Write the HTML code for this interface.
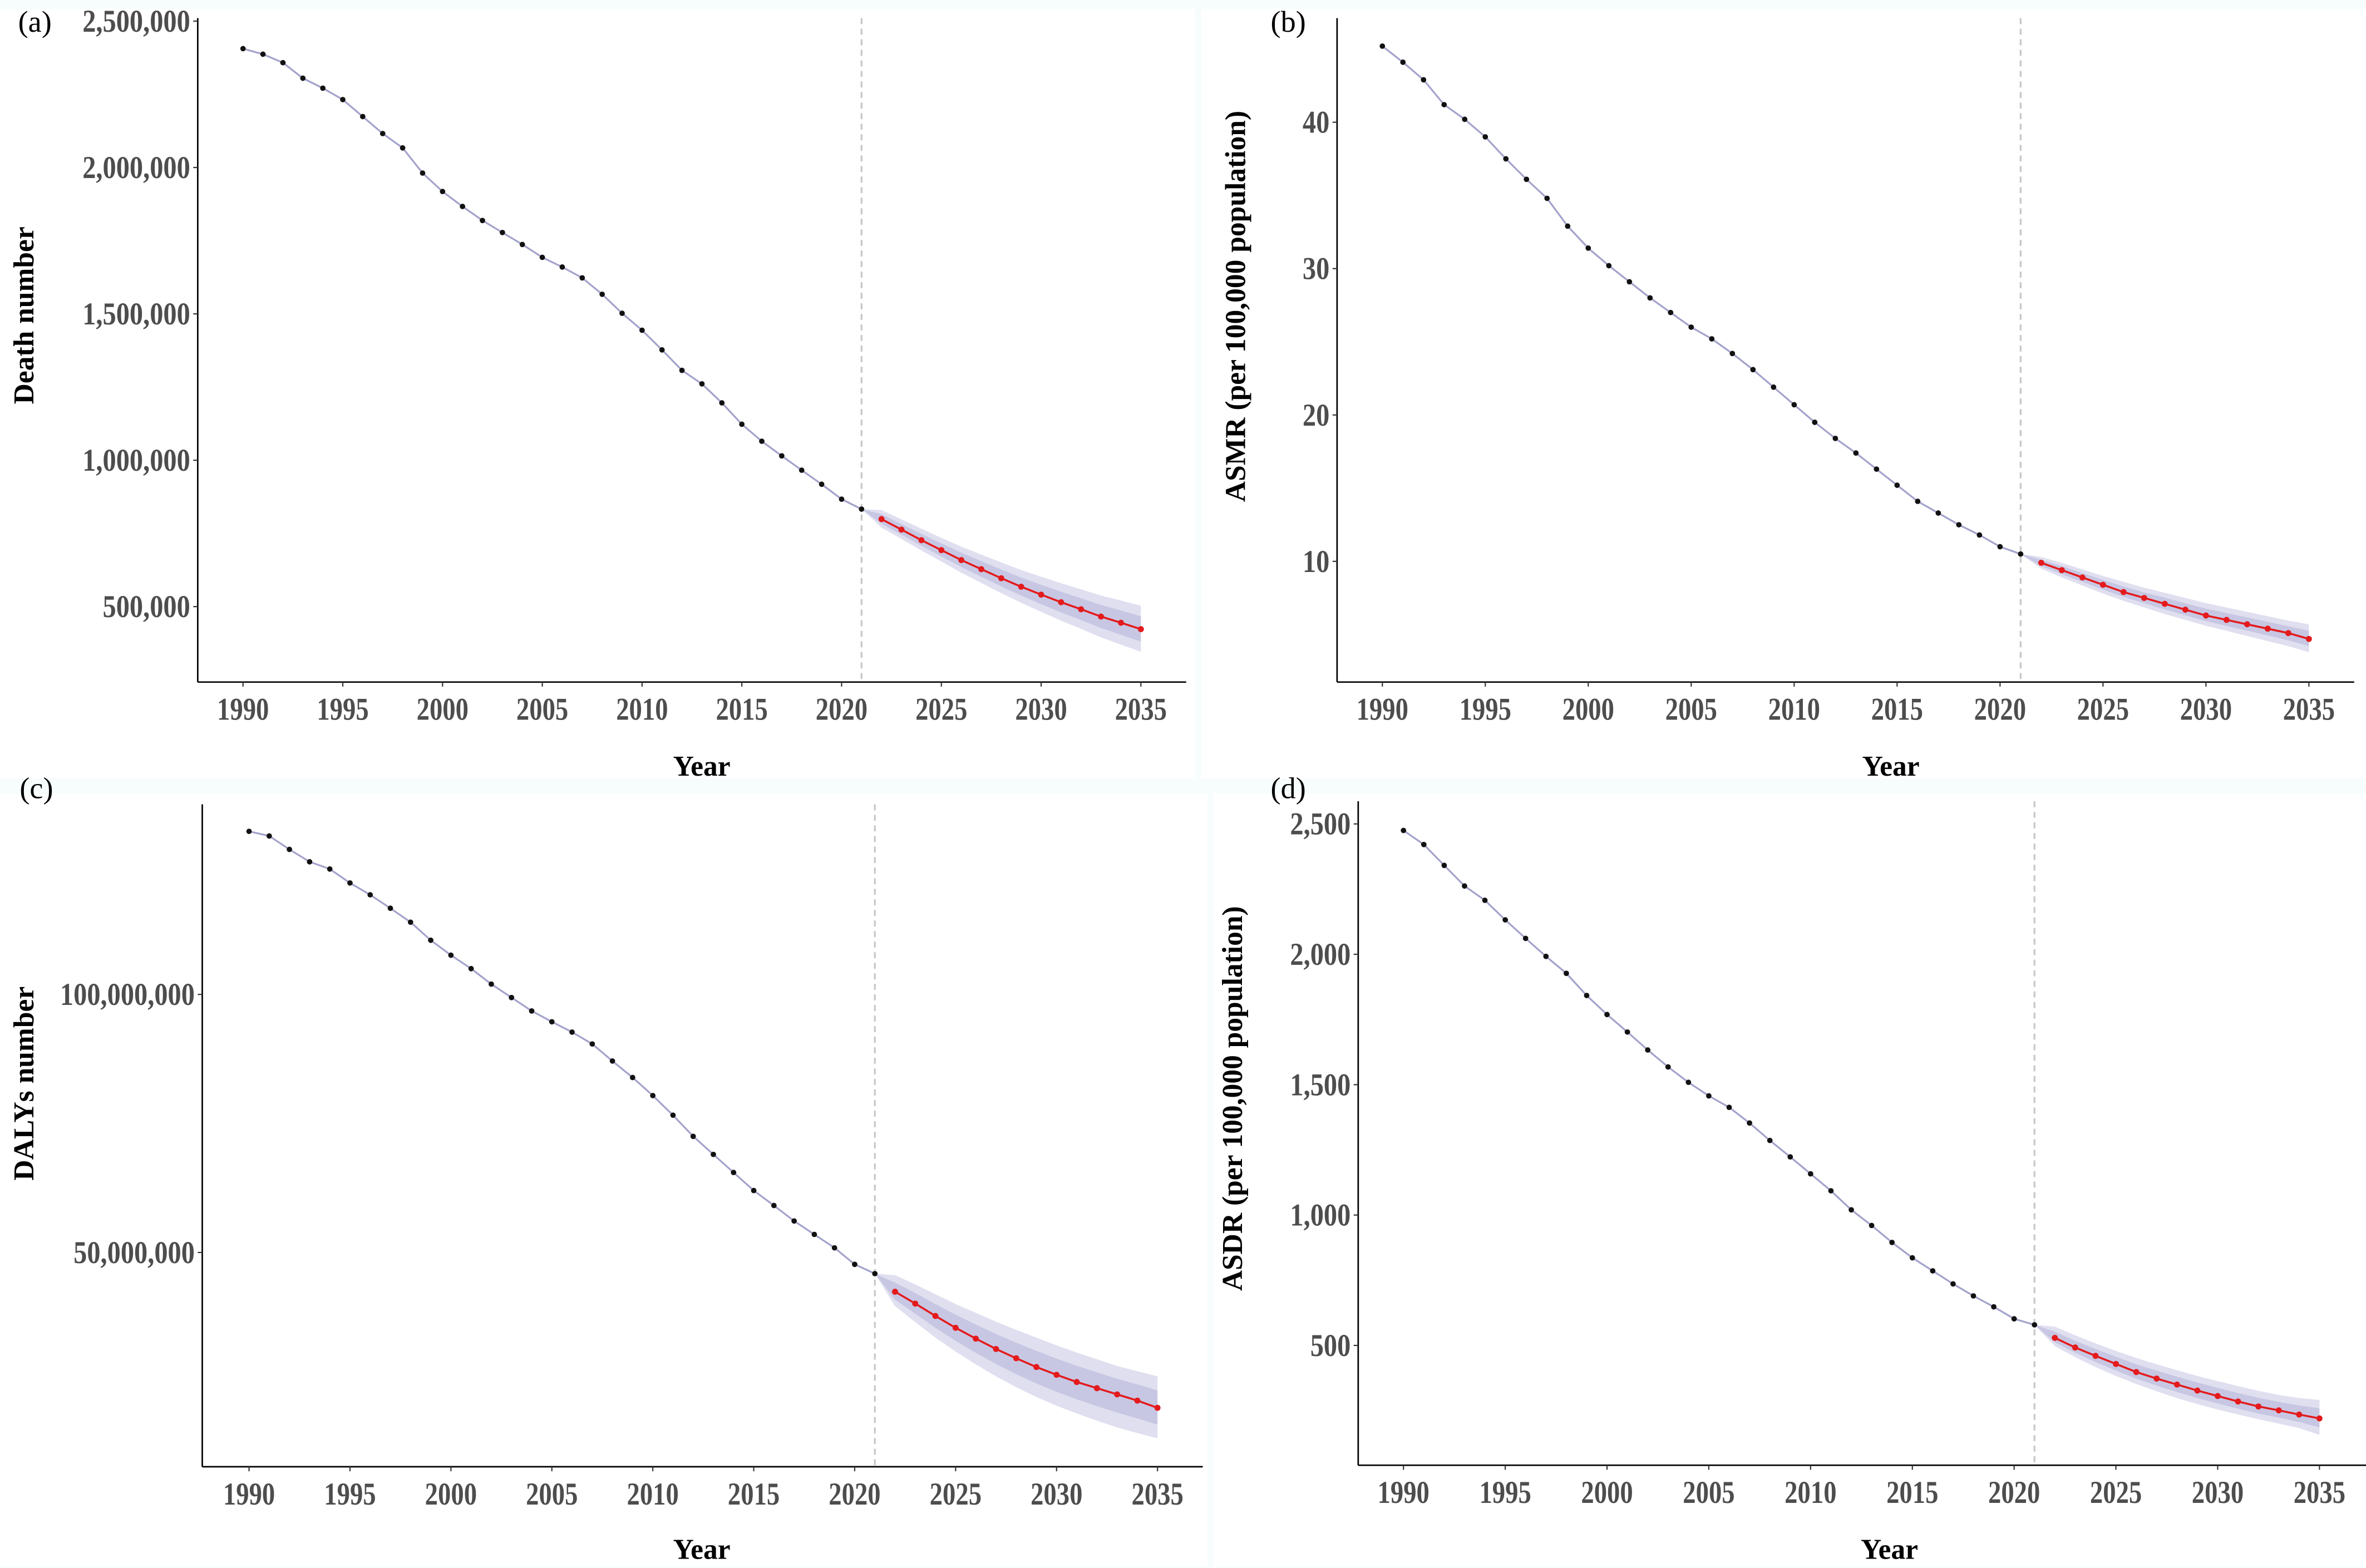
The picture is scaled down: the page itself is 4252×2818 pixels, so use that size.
<!DOCTYPE html>
<html><head><meta charset="utf-8">
<style>
html,body{margin:0;padding:0;background:#f7fdfd;}
svg{display:block;}
.tick{font-family:"Liberation Serif",serif;font-weight:bold;fill:#4d4d4d;font-size:21px;}
.title{font-family:"Liberation Serif",serif;font-weight:bold;fill:#000;font-size:19px;}
.tag{font-family:"Liberation Serif",serif;fill:#000;font-size:20px;}
</style></head>
<body>
<svg id="fig" width="4252" height="2818" viewBox="0 0 1567.8 1039.1" xmlns="http://www.w3.org/2000/svg">
<rect x="0" y="0" width="1567.8" height="1039.1" fill="#f7fdfd"/>
</svg>
<script>
const years = [];
for (let y = 1990; y <= 2021; y++) years.push(y);
const fyears = [];
for (let y = 2022; y <= 2035; y++) fyears.push(y);
const bandYears = [2021].concat(fyears);
const xTicks = [1990,1995,2000,2005,2010,2015,2020,2025,2030,2035];

// (a) Death number
const deathObs = [2406000,2387000,2358000,2305000,2271000,2232000,2174000,2116000,2067000,1981000,1918000,1867000,1819000,1778000,1737000,1693000,1660000,1623000,1567000,1502000,1444000,1377000,1307000,1261000,1196000,1123000,1065000,1015000,966000,918000,867000,833000];
const deathFc = [799000,763000,727000,693000,659000,628000,597000,568000,541000,515000,491000,466000,445000,423000];
const deathUpOuter = [833000,830000,798000,766000,735000,705000,678000,651000,625000,602000,580000,559000,538000,521000,503000];
const deathLoOuter = [833000,770000,731000,692000,654000,616000,581000,546000,513000,482000,452000,424000,395000,370000,346000];
const deathTicks = [500000,1000000,1500000,2000000,2500000];

// (b) ASMR
const asmrObs = [45.2,44.1,42.9,41.2,40.2,39.0,37.5,36.1,34.8,32.9,31.4,30.2,29.1,28.0,27.0,26.0,25.2,24.2,23.1,21.9,20.7,19.5,18.4,17.4,16.3,15.2,14.1,13.3,12.5,11.8,11.0,10.5];
const asmrFc = [9.9,9.4,8.9,8.4,7.9,7.5,7.1,6.7,6.3,6.0,5.7,5.4,5.1,4.7];
const asmrUpOuter = [10.5,10.3,9.9,9.45,9.0,8.6,8.2,7.85,7.5,7.15,6.85,6.55,6.25,5.95,5.7];
const asmrLoOuter = [10.5,9.5,8.9,8.35,7.8,7.3,6.85,6.4,6.0,5.6,5.25,4.9,4.55,4.2,3.8];
const asmrTicks = [10,20,30,40];

// (c) DALYs number
const dalyObs = [131.6,130.7,128.1,125.7,124.3,121.6,119.3,116.7,114.0,110.5,107.6,105.0,102.0,99.4,96.8,94.7,92.7,90.4,87.1,83.9,80.4,76.6,72.5,69.0,65.5,62.0,59.1,56.1,53.5,50.9,47.7,45.9].map(v=>v*1e6);
const dalyFc = [42.4,40.1,37.7,35.4,33.3,31.3,29.5,27.8,26.3,24.9,23.7,22.5,21.3,19.9].map(v=>v*1e6);
const dalyUpOuter = [45.9,45.6,43.8,41.9,40.0,38.3,36.6,35.0,33.5,32.0,30.6,29.3,28.0,27.0,26.0].map(v=>v*1e6);
const dalyLoOuter = [45.9,39.6,36.5,33.5,30.8,28.3,26.0,23.9,22.0,20.3,18.8,17.4,16.1,15.0,14.0].map(v=>v*1e6);
const dalyTicks = [50000000,100000000];

// (d) ASDR
const asdrObs = [2475,2421,2341,2262,2207,2132,2061,1992,1927,1842,1769,1702,1633,1568,1509,1457,1413,1353,1286,1223,1158,1093,1020,960,895,836,786,736,690,648,602,579];
const asdrFc = [529,492,460,429,398,373,350,327,306,285,266,251,235,220];
const asdrUpOuter = [579,572,539,508,479,452,428,405,383,363,344,326,310,298,291];
const asdrLoOuter = [579,497,455,417,383,352,324,298,275,254,235,217,200,183,157];
const asdrTicks = [500,1000,1500,2000,2500];

const NS = "http://www.w3.org/2000/svg";
const svg = document.getElementById('fig');
function el(tag, attrs, parent){
  const e = document.createElementNS(NS, tag);
  for (const k in attrs) e.setAttribute(k, attrs[k]);
  (parent||svg).appendChild(e);
  return e;
}
function fmt(v){ return v.toLocaleString('en-US'); }

function panel(cfg){
  const g = el('g', {});
  
  
  const bg = el('rect', {x:cfg.bg[0], y:cfg.bg[1], width:cfg.bg[2], height:cfg.bg[3], fill:'#ffffff'}, g);
  
  
  const X = yr => cfg.x0 + (yr - 1990) * (cfg.x1 - cfg.x0) / 45;
  const Y = v => cfg.yA + (v - cfg.vA) * (cfg.yB - cfg.yA) / (cfg.vB - cfg.vA);

  const mid = bandYears.map((yr,i)=> i===0 ? cfg.obs[cfg.obs.length-1] : cfg.fc[i-1]);
  function bandPath(up, lo){
    let d = '';
    bandYears.forEach((yr,i)=>{ d += (i?'L':'M') + X(yr).toFixed(2)+','+Y(up[i]).toFixed(2); });
    for (let i = bandYears.length-1; i>=0; i--) d += 'L' + X(bandYears[i]).toFixed(2)+','+Y(lo[i]).toFixed(2);
    return d+'Z';
  }
  const outer = el('path', {d:bandPath(cfg.up, cfg.lo), fill:'#c9c9e6', 'fill-opacity':'0.6'}, g);
  
  
  const innerUp = cfg.up.map((u,i)=> mid[i] + (u - mid[i]) * 0.55);
  const innerLo = cfg.lo.map((l,i)=> mid[i] - (mid[i] - l) * 0.55);
  const inner = el('path', {d:bandPath(innerUp, innerLo), fill:'#b3b3d9', 'fill-opacity':'0.55'}, g);
  
  

  const dl = el('line', {x1:X(2021), x2:X(2021), y1:cfg.top, y2:cfg.bottom, stroke:'#c8c8c8', 'stroke-width':1.2, 'stroke-dasharray':'4,3'}, g);
  
  

  const obsPts = years.map((yr,i)=> X(yr).toFixed(2)+','+Y(cfg.obs[i]).toFixed(2)).join(' ');
  const ol = el('polyline', {points:obsPts, fill:'none', stroke:'#a3a3cc', 'stroke-width':1.2}, g);
  
  
  years.forEach((yr,i)=>{
    const c = el('circle', {cx:X(yr), cy:Y(cfg.obs[i]), r:1.8, fill:'#111'}, g);
    
    
  });
  const fcPts = fyears.map((yr,i)=> X(yr).toFixed(2)+','+Y(cfg.fc[i]).toFixed(2)).join(' ');
  const fl = el('polyline', {points:fcPts, fill:'none', stroke:'#e41a1c', 'stroke-width':1.3}, g);
  
  
  fyears.forEach((yr,i)=>{
    const c = el('circle', {cx:X(yr), cy:Y(cfg.fc[i]), r:2, fill:'#e41a1c'}, g);
    
    
  });

  const ya = el('line', {x1:cfg.ax, x2:cfg.ax, y1:cfg.top, y2:cfg.bottom, stroke:'#000', 'stroke-width':1}, g);
  
  
  const xa = el('line', {x1:cfg.ax, x2:cfg.right, y1:cfg.bottom, y2:cfg.bottom, stroke:'#000', 'stroke-width':1}, g);
  
  
  xTicks.forEach(t=>{
    el('line', {x1:X(t), x2:X(t), y1:cfg.bottom, y2:cfg.bottom+3, stroke:'#333', 'stroke-width':0.8}, g);
    const tx = el('text', {x:0, y:0, 'text-anchor':'middle', class:'tick', transform:`translate(${X(t)},${cfg.bottom+25}) scale(0.82,1)`}, g);
    tx.textContent = t;
    
    
  });
  cfg.ticks.forEach(t=>{
    el('line', {x1:cfg.ax-3, x2:cfg.ax, y1:Y(t), y2:Y(t), stroke:'#333', 'stroke-width':0.8}, g);
    const tx = el('text', {x:0, y:0, 'text-anchor':'end', class:'tick', transform:`translate(${cfg.ax-5},${Y(t)+7}) scale(0.85,1)`}, g);
    tx.textContent = fmt(t);
    
    
  });
  const xt = el('text', {x:cfg.xtitle[0], y:cfg.xtitle[1], 'text-anchor':'middle', class:'title'}, g);
  xt.textContent = 'Year';
  
  
  const yt = el('text', {x:0, y:0, 'text-anchor':'middle', class:'title', transform:`translate(${cfg.ytitle[0]},${cfg.ytitle[1]}) rotate(-90)`}, g);
  yt.textContent = cfg.ylabel;
  
  
  const tg = el('text', {x:cfg.tag[0], y:cfg.tag[1], class:'tag'}, g);
  tg.textContent = cfg.tagText;
  
  
}

panel({name:'panel-a-death-number', bg:[0,6,792,510], x0:161, x1:756, ax:131, right:786, top:12, bottom:452,
  yA:14, vA:2500000, yB:402, vB:500000, obs:deathObs, fc:deathFc, up:deathUpOuter, lo:deathLoOuter, ticks:deathTicks,
  xtitle:[465,514], ytitle:[22,209], ylabel:'Death number', tag:[12,21], tagText:'(a)'});
panel({name:'panel-b-asmr', bg:[796,6,772,510], x0:916, x1:1530, ax:886, right:1560, top:12, bottom:452,
  yA:81, vA:40, yB:372, vB:10, obs:asmrObs, fc:asmrFc, up:asmrUpOuter, lo:asmrLoOuter, ticks:asmrTicks,
  xtitle:[1253,514], ytitle:[825,203], ylabel:'ASMR (per 100,000 population)', tag:[842,21], tagText:'(b)'});
panel({name:'panel-c-dalys-number', bg:[0,526,800,512], x0:165, x1:767, ax:134, right:797, top:533, bottom:972,
  yA:659, vA:100000000, yB:830, vB:50000000, obs:dalyObs, fc:dalyFc, up:dalyUpOuter, lo:dalyLoOuter, ticks:dalyTicks,
  xtitle:[465,1033], ytitle:[22,718], ylabel:'DALYs number', tag:[13,529], tagText:'(c)'});
panel({name:'panel-d-asdr', bg:[804,526,764,512], x0:930, x1:1537, ax:900, right:1568, top:531, bottom:971,
  yA:546, vA:2500, yB:891.6, vB:500, obs:asdrObs, fc:asdrFc, up:asdrUpOuter, lo:asdrLoOuter, ticks:asdrTicks,
  xtitle:[1252,1033], ytitle:[823,728], ylabel:'ASDR (per 100,000 population)', tag:[842,529], tagText:'(d)'});
</script>
</body></html>
